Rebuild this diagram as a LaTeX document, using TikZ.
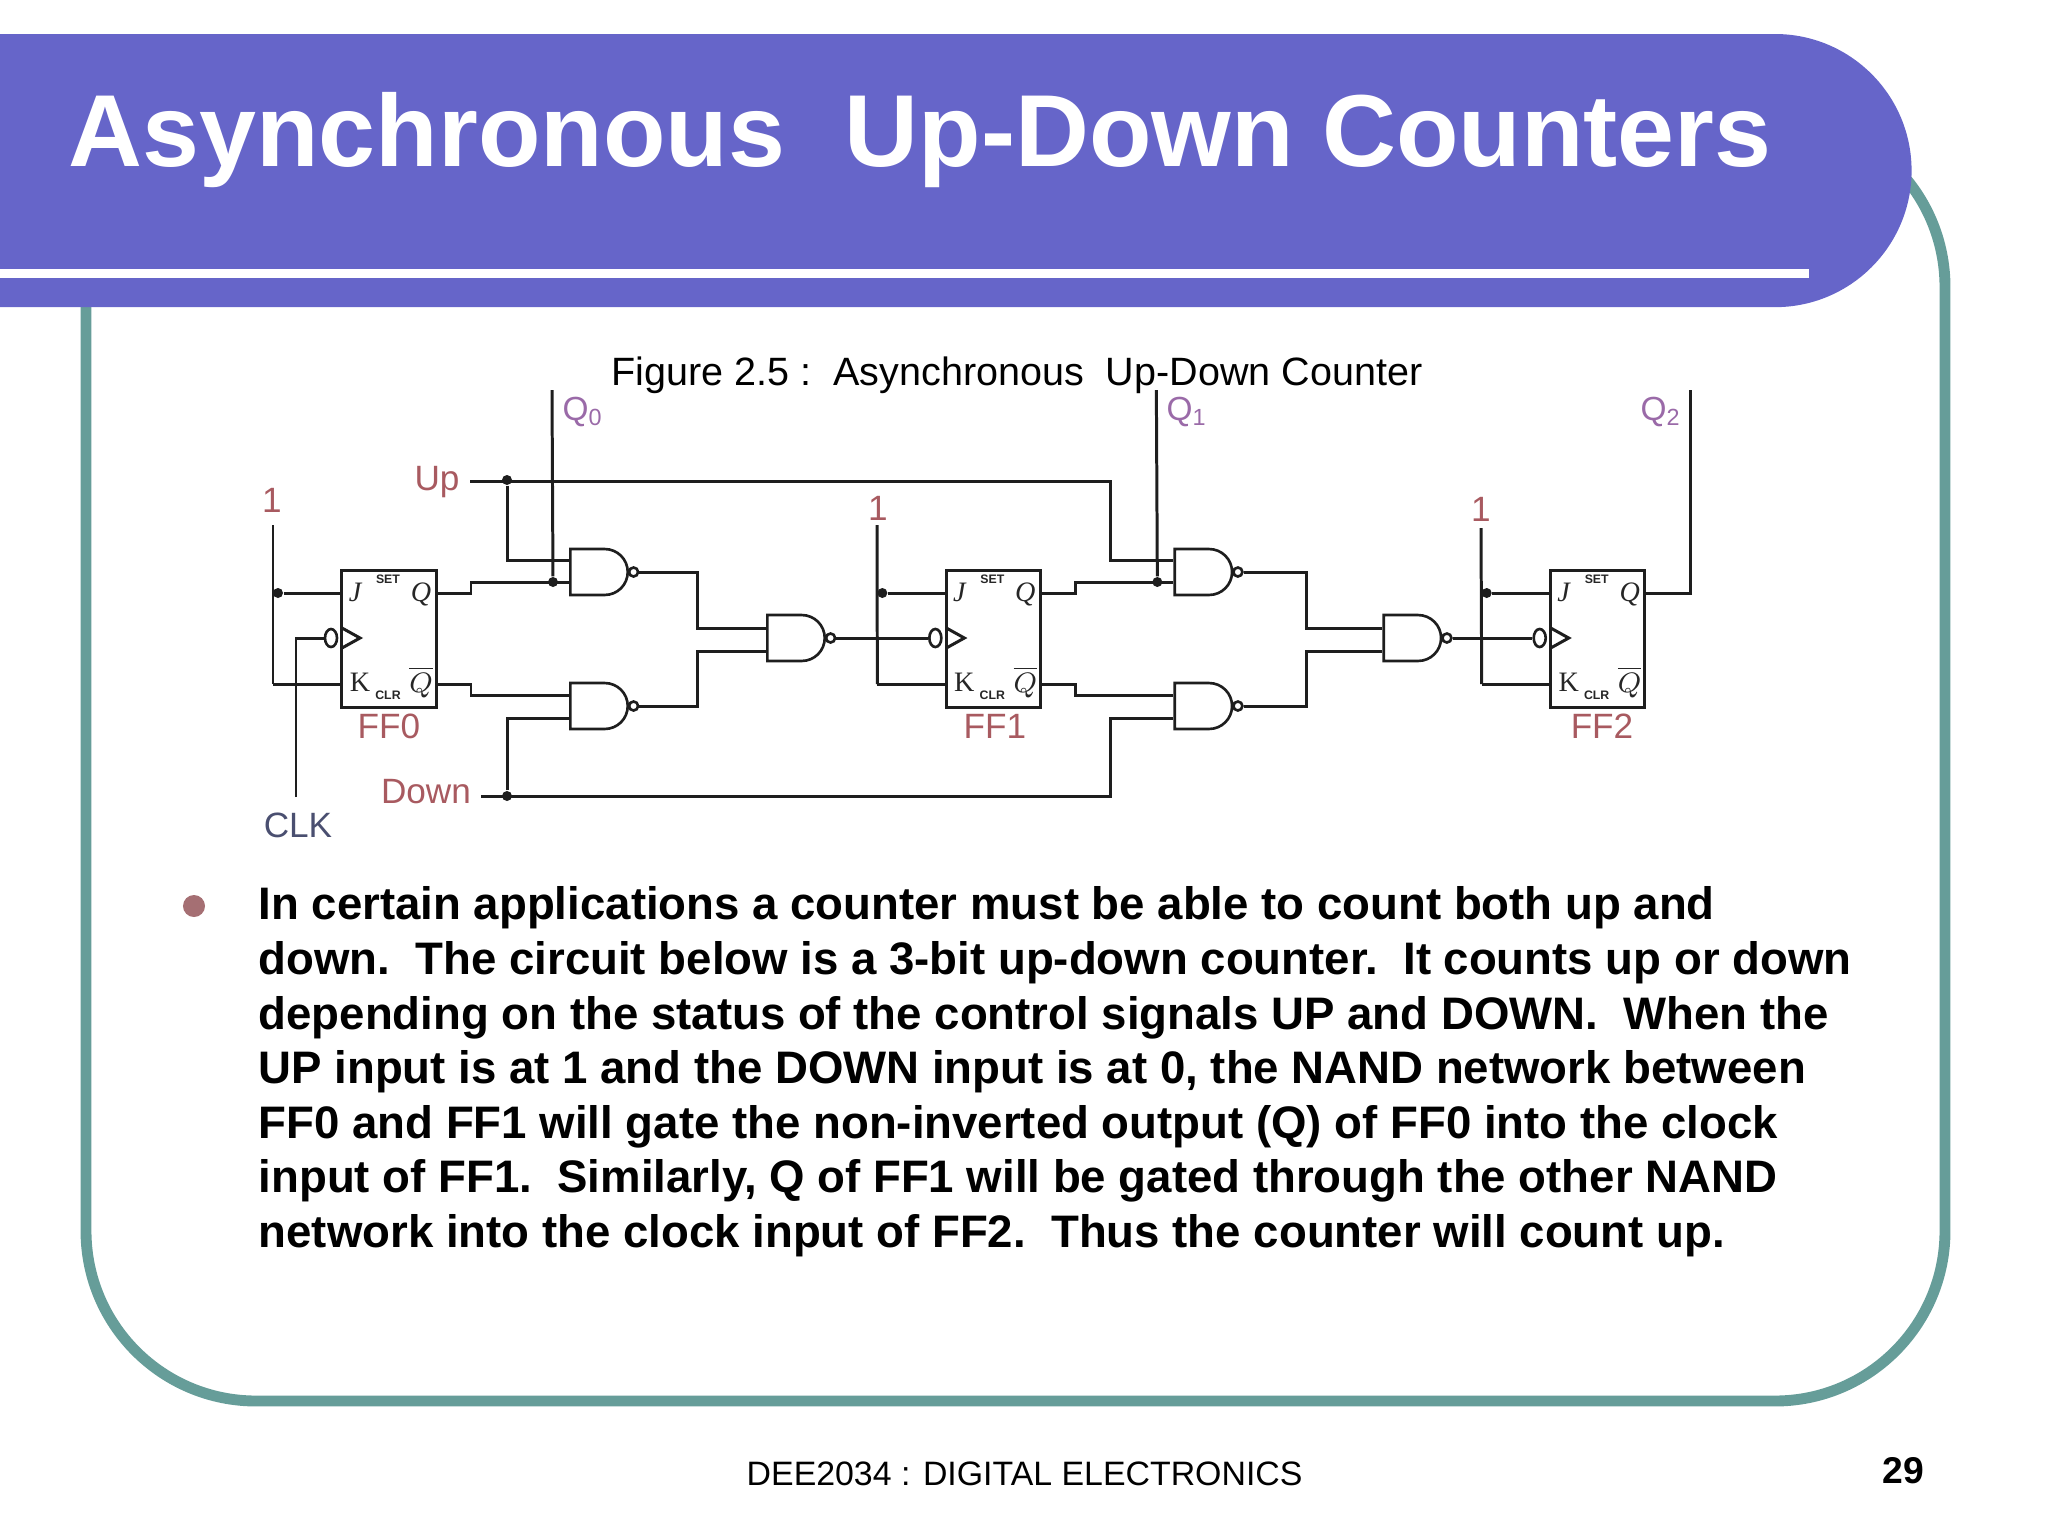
\documentclass[tikz,border=0pt]{standalone}
\usepackage{fontspec}
\setmainfont{Liberation Sans}
\newfontfamily\pinfont{Liberation Serif}
\usetikzlibrary{shapes.geometric,shapes.gates.logic.US}

\definecolor{bandblue}{HTML}{6665C9}
\definecolor{frameteal}{HTML}{669D99}
\definecolor{bulletrose}{HTML}{A56F73}
\definecolor{wirecol}{HTML}{1E1E1E}
\definecolor{redlabel}{HTML}{A85A60}
\definecolor{purplelabel}{HTML}{9A6AA8}
\definecolor{clklabel}{HTML}{4A4F70}

\tikzset{
  wire/.style={draw=wirecol,line width=.85pt},
  ffbox/.style={rectangle,draw=wirecol,line width=.85pt,minimum width=.94cm,minimum height=1.36cm,inner sep=0pt},
  nandgate/.style={nand gate US,draw=wirecol,line width=.75pt,logic gate inputs=nn,logic gate input sep=.153cm,
    logic gate inverted radius=.045cm,inner sep=0pt,anchor=west},
  clkbubble/.style={ellipse,draw=wirecol,line width=.75pt,minimum width=.12cm,minimum height=.18cm,inner sep=0pt},
  junction/.style={circle,fill=wirecol,minimum size=.1cm,inner sep=0pt},
  pinlabel/.style={inner sep=0pt,text=black!85,font=\pinfont\fontsize{8}{8}\selectfont},
  tinylabel/.style={inner sep=0pt,text=black!85,font=\bfseries\fontsize{3.5}{4}\selectfont},
  siglabel/.style={inner sep=0pt,text=redlabel,font=\fontsize{10}{10}\selectfont},
  qlabel/.style={inner sep=0pt,text=purplelabel,font=\fontsize{9.5}{10}\selectfont}
}

\begin{document}
\begin{tikzpicture}[x=.01cm,y=-.01cm]
  \useasboundingbox (0,0) rectangle (2048,1536);

  % slide background
  \draw[frameteal,line width=3.1pt,rounded corners=1.7cm] (86,117) rectangle (1945,1401);
  \fill[bandblue] (0,34) -- (1775,34) arc[start angle=90,end angle=-90,radius=1.365cm] -- (0,307) -- cycle;
  \fill[white] (0,269) rectangle (1809,278);

  \node[anchor=base west,inner sep=0pt,text=white,font=\bfseries\fontsize{29.1}{30}\selectfont] (title) at (68,166)
    {Asynchronous\ \ \hspace{.8pt}Up-Down Counters};
  \node[anchor=base west,inner sep=0pt,font=\fontsize{11.24}{12}\selectfont] (caption) at (611,385)
    {Figure 2.5 :\ \ Asynchronous\ \ Up-Down Counter};

  % flip flops
  \foreach \i/\x in {0/0,1/6.04,2/12.08} {
    \begin{scope}[xshift=\x cm]
      \node[ffbox] (ff\i) at (389,639) {};
      \coordinate (jpin\i) at (342,593);
      \coordinate (kpin\i) at (342,684);
      \coordinate (qpin\i) at (436,593);
      \coordinate (nqpin\i) at (436,684);
      \coordinate (onecorner\i) at (273,684);
      \node[clkbubble] (clkb\i) at (331,638) {};
      \node[junction] (jdot\i) at (278,593) {};
      \draw[wire] (jdot\i) -- (jpin\i);
      \draw[wire] (342,628) -- (360,638) -- (342,648);
      \draw[wire] (onecorner\i) -- (kpin\i);
      \node[pinlabel] (jlab\i) at (355,592) {\itshape J};
      \node[pinlabel] (qlab\i) at (421,594) {\itshape Q};
      \node[pinlabel] (klab\i) at (360,682) {K};
      \node[pinlabel] (nqlab\i) at (421,682) {$\overline{Q}$};
      \node[tinylabel] (setlab\i) at (388,579) {SET};
      \node[tinylabel] (clrlab\i) at (388,695) {CLR};
    \end{scope}
  }
  \node[siglabel] (ffname0) at (389,726) {FF0};
  \node[siglabel] (ffname1) at (995,726) {FF1};
  \node[siglabel] (ffname2) at (1602,726) {FF2};

  % the ones on J and K
  \node[siglabel] (one0) at (272,500) {1};
  \node[siglabel] (one1) at (878,508) {1};
  \node[siglabel] (one2) at (1481,509) {1};
  \coordinate (onetop0) at (273,525);
  \coordinate (onetop1) at (877,525);
  \coordinate (onetop2) at (1481,528);
  \draw[wire] (onetop0) -- (onecorner0);
  \draw[wire] (onetop1) -- (onecorner1);
  \draw[wire] (onetop2) -- (onecorner2);

  % control lines
  \node[siglabel] (up) at (437,482) {Up};
  \node[siglabel] (down) at (426,792) {Down};
  \node[siglabel,text=clklabel] (clk) at (298,825) {CLK};
  \coordinate (upstart) at (470,481);
  \coordinate (downstart) at (481,796);
  \coordinate (upend) at (1110,481);
  \coordinate (downend) at (1110,796);
  \node[junction] (updot) at (507,480) {};
  \node[junction] (downdot) at (507,796) {};

  % gates between the stages
  \foreach \i/\j/\x/\jx/\mx in {0/1/0/697/766,1/2/6.04/702/778} {
    \begin{scope}[xshift=\x cm]
      \node[nandgate] (gateu\i) at (569,572) {};
      \node[nandgate] (gated\i) at (569,706) {};
      \node[nandgate] (gatem\i) at (\mx,638) {};
      \coordinate (ua\i) at (569,560);
      \coordinate (ub\i) at (569,582);
      \coordinate (da\i) at (569,695);
      \coordinate (db\i) at (569,718);
      \coordinate (ma\i) at (\mx,628);
      \coordinate (mb\i) at (\mx,651);
      \node[junction] (qdot\i) at (553,582) {};
      \coordinate (qtop\i) at (552,390);
      \coordinate (qstep\i) at (471,593);
      \coordinate (nqstep\i) at (471,684);
      \coordinate (joinu\i) at (\jx,628);
      \coordinate (joind\i) at (\jx,651);
      \draw[wire] (qpin\i) -- (qstep\i) |- (ub\i);
      \draw[wire] (nqpin\i) -- (nqstep\i) |- (da\i);
      \draw[wire] (qtop\i) -- (qdot\i);
      \draw[wire] (gateu\i.output) -| (joinu\i) -- (ma\i);
      \draw[wire] (gated\i.output) -| (joind\i) -- (mb\i);
    \end{scope}
    \draw[wire] (gatem\i.output) -- (clkb\j.west);
  }

  \draw[wire] (upstart) -- (upend) |- (ua1);
  \draw[wire] (updot) |- (ua0);
  \draw[wire] (downstart) -- (downend) |- (db1);
  \draw[wire] (downdot) |- (db0);

  \coordinate (clkstart) at (296,797);
  \draw[wire] (clkstart) |- (clkb0.west);
  \coordinate (qtoptwo) at (1690,390);
  \draw[wire] (qpin2) -| (qtoptwo);

  \node[qlabel] (qname0) at (583,412) {Q\textsubscript{0}};
  \node[qlabel] (qname1) at (1187,412) {Q\textsubscript{1}};
  \node[qlabel] (qname2) at (1661,412) {Q\textsubscript{2}};

  % text under the circuit
  \node[circle,fill=bulletrose,minimum size=.22cm,inner sep=0pt] (bullet) at (194,906) {};
  \node[anchor=north west,inner sep=0pt,align=left,font=\bfseries\fontsize{12.96}{15.54}\selectfont] (body) at (258,886)
    {In certain applications a counter must be able to count both up and\\
     down.\ \ The circuit below is a 3-bit up-down counter.\ \ It counts up or down\\
     depending on the status of the control signals UP and DOWN.\ \ When the\\
     UP input is at 1 and the DOWN input is at 0, the NAND network between\\
     FF0 and FF1 will gate the non-inverted output (Q) of FF0 into the clock\\
     input of FF1.\ \ Similarly, Q of FF1 will be gated through the other NAND\\
     network into the clock input of FF2.\ \ Thus the counter will count up.};

  \node[anchor=base west,inner sep=0pt,font=\fontsize{9.63}{11}\selectfont] (footer) at (746,1485)
    {DEE2034 : DIGITAL ELECTRONICS};
  \node[anchor=base east,inner sep=0pt,font=\bfseries\fontsize{10.6}{11}\selectfont] (pagenum) at (1925,1483) {29};
\end{tikzpicture}
\end{document}
